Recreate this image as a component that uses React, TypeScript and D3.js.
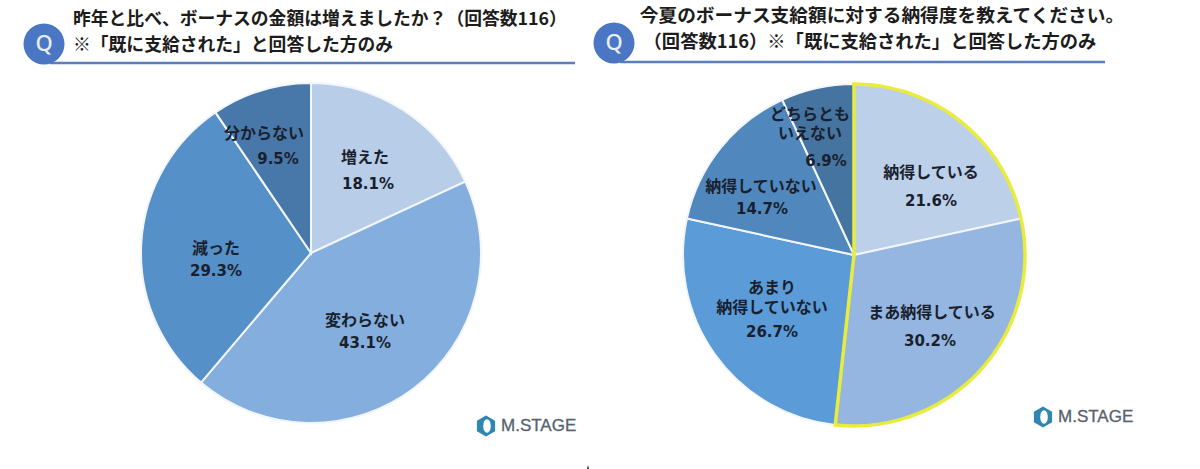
import React from "react";
import * as d3 from "d3";

const leftCategories = ["増えた", "変わらない", "減った", "分からない"];
const leftValues = [18.1, 43.1, 29.3, 9.5];
const leftColors = ["#b7cde8", "#84aedd", "#5590c8", "#4878aa"];
// label anchors, relative to the pie centre
const leftNameAt = [[54, -94], [54, 69], [-95, -3], [-47, -118]];
const leftValueAt = [[57, -69], [54, 90], [-95, 18], [-33, -94]];

const rightCategories = [["納得している"], ["まあ納得している"], ["あまり", "納得していない"], ["納得していない"], ["どちらとも", "いえない"]];
const rightValues = [21.6, 30.2, 26.7, 14.7, 6.9];
const rightColors = ["#bcd0ea", "#94b6e0", "#5b9bd8", "#5088be", "#44749f"];
const rightNameAt = [[77, -81], [78, 59], [-82, 34], [-93, -67], [-44, -139]];
const rightValueAt = [[77, -54], [76, 86], [-82, 77], [-92, -46], [-28, -94]];
const rightLineStep = [0, 0, 20, 0, 19];

const font = "'Noto Sans CJK JP', sans-serif";
const valueFont = "'DejaVu Sans', sans-serif";
const inkColor = "#1a1f2e";
const lineColor = "#5b7fbd";
const badgeColor = "#4a76c4";

function Pie({ cx, cy, r, values, colors, labels, nameAt, valueAt, steps }: any) {
  const arcs = d3.pie<number>().sort(null)(values);
  const arc = d3.arc<any>().innerRadius(0).outerRadius(r);
  return (
    <g transform={`translate(${cx},${cy})`}>
      {arcs.map((a, i) => (
        <path key={i} d={arc(a) as string} fill={colors[i]} stroke="#f2f6fb" strokeWidth={2} />
      ))}
      {arcs.map((a, i) => {
        const lines: string[] = labels[i];
        return (
          <g key={i} fontWeight={700} textAnchor="middle" fill={inkColor}>
            {lines.map((t, j) => (
              <text key={j} x={nameAt[i][0]} y={nameAt[i][1] + j * (steps ? steps[i] : 0)} fontFamily={font} fontSize={16} dominantBaseline="middle">{t}</text>
            ))}
            <text x={valueAt[i][0]} y={valueAt[i][1]} fontFamily={valueFont} fontSize={15} dominantBaseline="middle">{values[i]}%</text>
          </g>
        );
      })}
    </g>
  );
}

function Header({ bx, by, x2, lines, anchor }: any) {
  return (
    <g>
      <line x1={bx + 6} x2={x2} y1={by + 19} y2={by + 19} stroke={lineColor} strokeWidth={2.5} />
      <circle cx={bx} cy={by} r={20.5} fill={badgeColor} />
      <text x={bx} y={by + 1} fill="#e8eef8" fontFamily="'Noto Sans', sans-serif" fontSize={22} fontWeight={500} textAnchor="middle" dominantBaseline="middle">Q</text>
      {lines.map((l: any, i: number) => (
        <text key={i} x={l.x} y={l.y} fontFamily={font} fontWeight={700} fontSize={l.size} fill="#1c1c1c" textAnchor={anchor} dominantBaseline="middle">{l.t}</text>
      ))}
    </g>
  );
}

function Logo({ x, y }: { x: number; y: number }) {
  const hex = d3.range(6).map((i) => {
    const t = (Math.PI / 3) * i + Math.PI / 6;
    return [Math.cos(t) * 10.5, Math.sin(t) * 10.5] as [number, number];
  });
  return (
    <g transform={`translate(${x},${y})`}>
      <path d={d3.line()(hex) + "Z"} fill="#2f86b0" />
      <ellipse cx={1} cy={0} rx={3.8} ry={6.8} fill="#fff" />
      <text x={15} y={1} fontFamily="'Liberation Sans', sans-serif" fontSize={17} fill="#56626c" dominantBaseline="middle" stroke="#56626c" strokeWidth={0.3}>M.STAGE</text>
    </g>
  );
}

export default function App() {
  const rightArcs = d3.pie<number>().sort(null)(rightValues);
  const rR = 171;
  const outline = d3.arc<any>().innerRadius(0).outerRadius(rR)({
    startAngle: rightArcs[0].startAngle,
    endAngle: rightArcs[1].endAngle,
  });
  return (
    <svg width={1200} height={469} style={{ position: "absolute", left: 0, top: 0, background: "#fff" }}>
      <Header bx={44} by={44} x2={575} anchor="start" lines={[
        { t: "昨年と比べ、ボーナスの金額は増えましたか？（回答数116）", x: 73, y: 20, size: 17.8 },
        { t: "※「既に支給された」と回答した方のみ", x: 73, y: 46, size: 17.8 },
      ]} />
      <Header bx={614} by={43} x2={1105} anchor="middle" lines={[
        { t: "今夏のボーナス支給額に対する納得度を教えてください。", x: 882, y: 17, size: 18.7 },
        { t: "（回答数116）※「既に支給された」と回答した方のみ", x: 870, y: 43, size: 18.3 },
      ]} />
      <Pie cx={311} cy={253} r={170} values={leftValues} colors={leftColors} labels={leftCategories.map((c) => [c])} nameAt={leftNameAt} valueAt={leftValueAt} />
      <Pie cx={854} cy={255} r={rR} values={rightValues} colors={rightColors} labels={rightCategories} nameAt={rightNameAt} valueAt={rightValueAt} steps={rightLineStep} />
      <path d={outline as string} transform="translate(854,255)" fill="none" stroke="#e8ec3c" strokeWidth={3.5} />
      <Logo x={486} y={426} />
      <Logo x={1043} y={417} />
      <path d="M587 469 L588 465 L589 469Z" fill="#222" />
    </svg>
  );
}
